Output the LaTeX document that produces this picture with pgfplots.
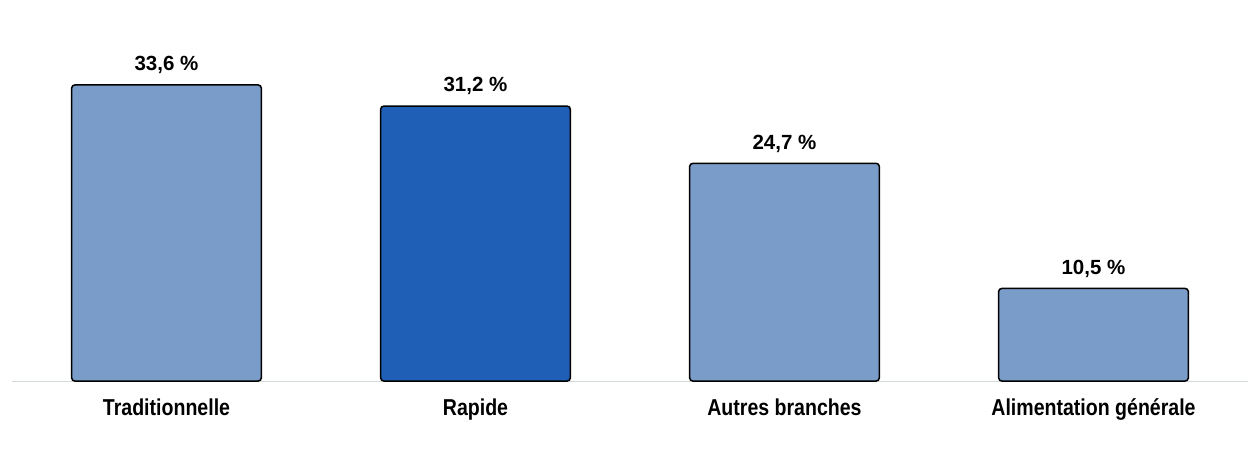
\documentclass[border=0pt]{standalone}
\usepackage{pgfplots}
\pgfplotsset{compat=1.18}
\usepackage{fontspec}
\setmainfont{Liberation Sans}
\newfontfamily\catfont[FakeStretch=0.85]{Liberation Sans}
\definecolor{lightbar}{HTML}{7A9CC8}
\definecolor{darkbar}{HTML}{1F5FB5}
\definecolor{axisgray}{HTML}{D3DADA}
\begin{document}
\begin{tikzpicture}
\path[use as bounding box] (-6bp,-34.5bp) rectangle (624bp,190.5bp);
\begin{axis}[
    at={(0,0)}, anchor=south west,
    scale only axis, width=618bp, height=176.2bp,
    xmin=-0.5, xmax=3.5, ymin=0, ymax=40,
    hide y axis,
    axis x line=bottom,
    x axis line style={axisgray, line width=0.5bp, -},
    xtick={0,1,2,3},
    xticklabels={Traditionnelle, Rapide, Autres branches, Alimentation générale},
    major tick length=0, xtick style={draw=none},
    xticklabel style={font=\catfont\bfseries\fontsize{11.5bp}{13bp}\selectfont,
      anchor=base, yshift=-17.35bp},
    ybar, bar width=94.8bp, bar shift=0pt,
    point meta=explicit symbolic,
    nodes near coords,
    nodes near coords style={font=\bfseries\fontsize{10.25bp}{12bp}\selectfont,
      text=black, anchor=base, yshift=7.15bp},
    clip=false,
  ]
\addplot[fill=lightbar, draw=black, line width=0.75bp, rounded corners=1.5bp]
  coordinates {(0,33.6) [33,6 \%] (2,24.7) [24,7 \%] (3,10.5) [10,5 \%]};
\addplot[fill=darkbar, draw=black, line width=0.75bp, rounded corners=1.5bp]
  coordinates {(1,31.2) [31,2 \%]};
\end{axis}
\end{tikzpicture}
\end{document}
